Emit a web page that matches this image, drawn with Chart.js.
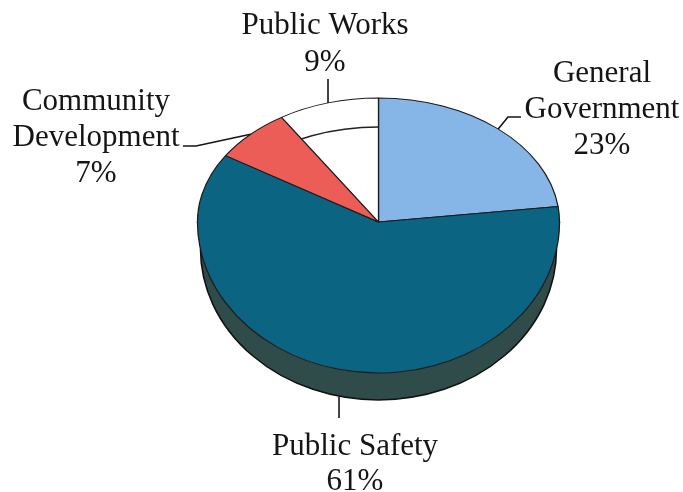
<!DOCTYPE html>
<html>
<head>
<meta charset="utf-8">
<title>Expenditures by Function</title>
<script src="https://cdn.jsdelivr.net/npm/chart.js@4.4.1/dist/chart.umd.min.js"></script>
<style>
  html, body { margin: 0; padding: 0; background: #fff; }
  #wrap { width: 683px; height: 492px; }
</style>
</head>
<body>
<div id="wrap"><canvas id="pieChart" width="683" height="492"></canvas></div>
<script>
"use strict";

// данные
const categories = ['General Government', 'Public Safety', 'Community Development', 'Public Works'];
const shares = [23, 61, 7, 9];   // %
const labelLines = [['General', 'Government'], ['Public Safety'], ['Community', 'Development'], ['Public Works']];

const faceColors = ['#86b6e8', '#0b6482', '#ec5d58', '#ffffff'];
const sideColors = ['#5d83a8', '#2f4c4a', '#a8403c', '#d8d8d8'];

// наклон пирога: дальняя половина сплющена сильнее ближней
const TILT_BACK = 0.685;
const TILT_FRONT = 0.834;
const DEPTH = 27;        // толщина боковой стенки спереди
const DEPTH_BACK = 29;   // внутренний край, видный сквозь белый сектор
const BOTTOM_SHRINK = 3; // нижний край чуть уже - перспектива

// подписи: центр по x, первая базовая линия, шаг строк, изломы выносной линии
// (x = null -> линия идёт вертикально от края сектора)
const labelLayout = [
    { x: 602, y: 82,  step: 36, leader: [[508, 117], [521, 117]] },
    { x: 355, y: 455, step: 35, leader: [[null, 418]] },
    { x: 96,  y: 110, step: 36, leader: [[196, 146], [183, 146]] },
    { x: 325, y: 34,  step: 37, leader: [[null, 79]] }
];

const FONT = '31px "Liberation Serif", "Times New Roman", serif';

// точка на краю верхней грани (спереди - по нижнему краю стенки)
function rimPoint(arc, angle) {
    const s = Math.sin(angle);
    const k = s < 0 ? TILT_BACK : TILT_FRONT;
    const y = arc.y + arc.outerRadius * k * s + (s > 0 ? DEPTH : 0);
    return [arc.x + arc.outerRadius * Math.cos(angle), y];
}

const tiltPlugin = {
    id: 'tilt',
    beforeDatasetsDraw(chart) {
        const ctx = chart.ctx;
        const arcs = chart.getDatasetMeta(0).data;
        const cx = arcs[0].x, cy = arcs[0].y, r = arcs[0].outerRadius;
        const rb = r - BOTTOM_SHRINK;

        // боковая стенка - только передняя половина
        arcs.forEach((arc, i) => {
            const a0 = Math.max(arc.startAngle, 0);
            const a1 = Math.min(arc.endAngle, Math.PI);
            if (a1 <= a0) return;
            ctx.save();
            ctx.beginPath();
            ctx.ellipse(cx, cy, r, r * TILT_FRONT, 0, a0, a1);
            ctx.ellipse(cx, cy + DEPTH, rb, r * TILT_FRONT, 0, a1, a0, true);
            ctx.closePath();
            ctx.fillStyle = sideColors[i];
            ctx.fill();
            ctx.beginPath();
            ctx.ellipse(cx, cy + DEPTH, rb, r * TILT_FRONT, 0, a0, a1);
            ctx.lineWidth = 1.6;
            ctx.strokeStyle = '#111';
            ctx.stroke();
            ctx.restore();
        });

        // верхняя грань рисуется дважды: дальняя и ближняя половины
        [[0, cy + 1, TILT_BACK], [cy, chart.height - cy, TILT_FRONT]].forEach(([top, h, k]) => {
            ctx.save();
            ctx.beginPath();
            ctx.rect(0, top, chart.width, h);
            ctx.clip();
            ctx.translate(cx, cy);
            ctx.scale(1, k);
            ctx.translate(-cx, -cy);
            arcs.forEach(arc => arc.draw(ctx));
            ctx.restore();
        });

        // сектор Public Works открыт - сквозь него виден внутренний край
        const pw = arcs[3];
        ctx.save();
        ctx.beginPath();
        ctx.moveTo(cx, cy);
        ctx.ellipse(cx, cy, r, r * TILT_BACK, 0, pw.startAngle, pw.endAngle);
        ctx.closePath();
        ctx.clip();
        ctx.beginPath();
        ctx.ellipse(cx, cy + DEPTH_BACK, r, r * TILT_BACK, 0, Math.PI, 2 * Math.PI);
        ctx.lineWidth = 1.4;
        ctx.strokeStyle = '#222';
        ctx.stroke();
        ctx.restore();

        return false;   // стандартную отрисовку не делаем
    },
    // afterDatasetsDraw не вызывается, если before вернул false - поэтому afterDraw
    afterDraw(chart) {
        const ctx = chart.ctx;
        const arcs = chart.getDatasetMeta(0).data;
        ctx.save();
        ctx.font = FONT;
        ctx.fillStyle = '#151515';
        ctx.strokeStyle = '#151515';
        ctx.lineWidth = 1.6;
        ctx.textAlign = 'center';
        ctx.textBaseline = 'alphabetic';

        arcs.forEach((arc, i) => {
            const lay = labelLayout[i];
            const mid = (arc.startAngle + arc.endAngle) / 2;
            const p = rimPoint(arc, mid);

            // выносная линия
            ctx.beginPath();
            ctx.moveTo(p[0], p[1]);
            lay.leader.forEach(pt => ctx.lineTo(pt[0] === null ? p[0] : pt[0], pt[1]));
            ctx.stroke();

            // текст
            const lines = labelLines[i].concat([shares[i] + '%']);
            lines.forEach((t, j) => ctx.fillText(t, lay.x, lay.y + j * lay.step));
        });
        ctx.restore();
    }
};

const ctx = document.getElementById('pieChart');
const pieChart = new Chart(ctx, {
    type: 'pie',
    data: {
        labels: categories,
        datasets: [{
            data: shares,
            backgroundColor: faceColors,
            borderColor: '#1c1c1c',
            borderWidth: 1.3
        }]
    },
    options: {
        responsive: false,
        animation: false,
        events: [],
        radius: 181,
        layout: {
            padding: { left: 196, right: 122, top: 40, bottom: 88 }
        },
        plugins: {
            legend: { display: false },
            tooltip: { enabled: false }
        }
    },
    plugins: [tiltPlugin]
});
</script>
</body>
</html>
